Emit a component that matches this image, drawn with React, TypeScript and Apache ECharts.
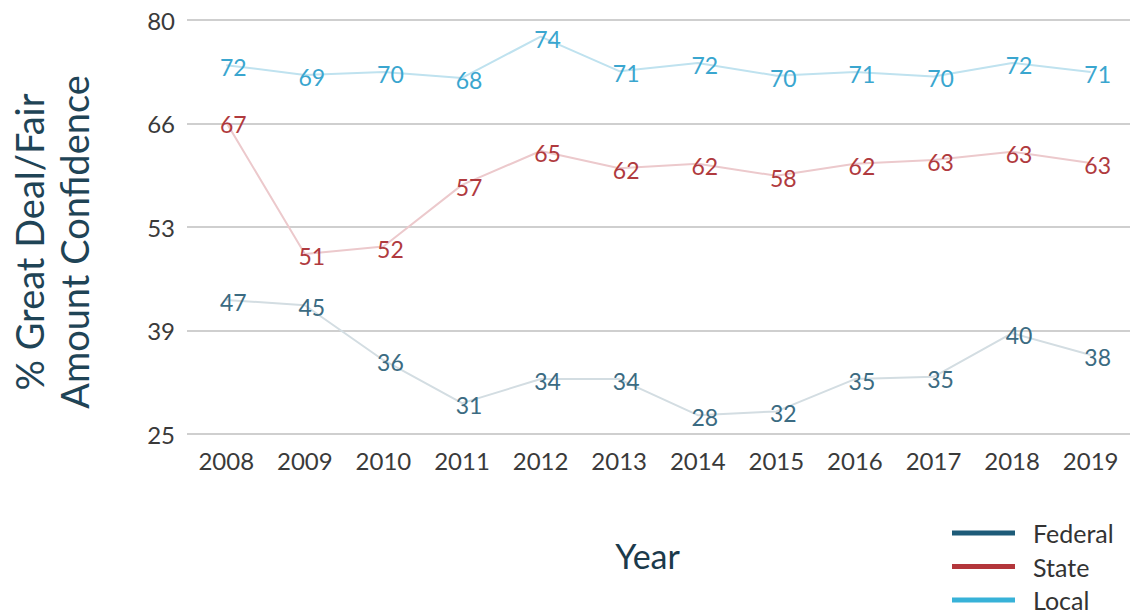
import React, { useEffect, useRef } from "react";
import * as echarts from "echarts";

const years = ["2008", "2009", "2010", "2011", "2012", "2013", "2014", "2015", "2016", "2017", "2018", "2019"];

// printed data labels
const federalLabels = [47, 45, 36, 31, 34, 34, 28, 32, 35, 35, 40, 38];
const stateLabels = [67, 51, 52, 57, 65, 62, 62, 58, 62, 63, 63, 63];
const localLabels = [72, 69, 70, 68, 74, 71, 72, 70, 71, 70, 72, 71];

// line vertex positions as read against the y axis
const federalLine = [42.8, 42.1, 34.8, 29.1, 32.3, 32.3, 27.5, 28.0, 32.3, 32.6, 38.4, 35.5];
const stateLine = [66.4, 48.9, 49.9, 58.1, 62.6, 60.3, 60.9, 59.3, 60.9, 61.4, 62.5, 61.0];
const localLine = [74.0, 72.7, 73.1, 72.3, 77.8, 73.2, 74.3, 72.6, 73.1, 72.5, 74.3, 73.1];

const yTickLabels = ["25", "39", "53", "66", "80"];

const FONT = "Lato, 'Noto Sans', sans-serif";

export default function App() {
  const ref = useRef<HTMLDivElement>(null);

  useEffect(() => {
    document.body.style.margin = "0";
    const chart = echarts.init(ref.current!, undefined, { renderer: "svg" });

    const mk = (
      name: string,
      data: number[],
      labels: number[],
      lineColor: string,
      labelColor: string
    ) => ({
      name,
      type: "line",
      data,
      symbol: "circle",
      symbolSize: 1,
      itemStyle: { color: "rgba(0,0,0,0)" },
      lineStyle: { color: lineColor, width: 2 },
      label: {
        show: true,
        position: "inside",
        offset: [7, 2],
        color: labelColor,
        fontSize: 23,
        fontFamily: FONT,
        formatter: (p: any) => String(labels[p.dataIndex]),
      },
      emphasis: { disabled: true },
      z: 2,
    });

    chart.setOption({
      animation: false,
      grid: {
        left: 187,
        right: 0,
        top: 20,
        bottom: 180,
        containLabel: false,
        outerBoundsMode: "none",
      },
      xAxis: {
        type: "category",
        data: years,
        boundaryGap: true,
        axisLine: { show: false },
        axisTick: { show: false },
        axisLabel: { color: "#3a3a3a", fontSize: 24, fontFamily: FONT, margin: 14 },
        name: "Year",
        nameLocation: "middle",
        nameGap: 104,
        nameTextStyle: {
          color: "#1b3a4b",
          fontSize: 34,
          fontFamily: FONT,
          padding: [0, 22, 0, 0],
        },
      },
      yAxis: {
        type: "value",
        min: 25,
        max: 80,
        interval: 13.75,
        axisLine: { show: false },
        axisTick: { show: false },
        splitLine: { show: true, lineStyle: { color: "#cfcfcf", width: 2 } },
        axisLabel: {
          color: "#3a3a3a",
          fontSize: 24,
          fontFamily: FONT,
          margin: 12,
          formatter: (_v: number, i: number) => yTickLabels[i],
        },
        name: "% Great Deal/Fair\nAmount Confidence",
        nameLocation: "middle",
        nameRotate: 90,
        nameGap: 91,
        nameTextStyle: {
          color: "#1f4456",
          fontSize: 38,
          fontFamily: FONT,
          lineHeight: 45,
          padding: [0, 30, 0, 0],
        },
      },
      legend: {
        orient: "vertical",
        left: 952,
        top: 520,
        height: 120,
        padding: 0,
        itemWidth: 63,
        itemHeight: 5,
        itemGap: 7.5,
        icon: "rect",
        selectedMode: false,
        textStyle: {
          color: "#333",
          fontSize: 25,
          lineHeight: 26,
          fontFamily: FONT,
          padding: [0, 0, 0, 13],
        },
        data: [
          { name: "Federal", itemStyle: { color: "#1d5b78" } },
          { name: "State", itemStyle: { color: "#b3363b" } },
          { name: "Local", itemStyle: { color: "#37b2d8" } },
        ],
      },
      series: [
        mk("Federal", federalLine, federalLabels, "#d3dde2", "#3b6b82"),
        mk("State", stateLine, stateLabels, "#ecc9cc", "#b03a3e"),
        mk("Local", localLine, localLabels, "#bfe2ef", "#3aa6cf"),
      ],
    });

    return () => chart.dispose();
  }, []);

  return <div ref={ref} style={{ width: 1130, height: 614 }} />;
}
